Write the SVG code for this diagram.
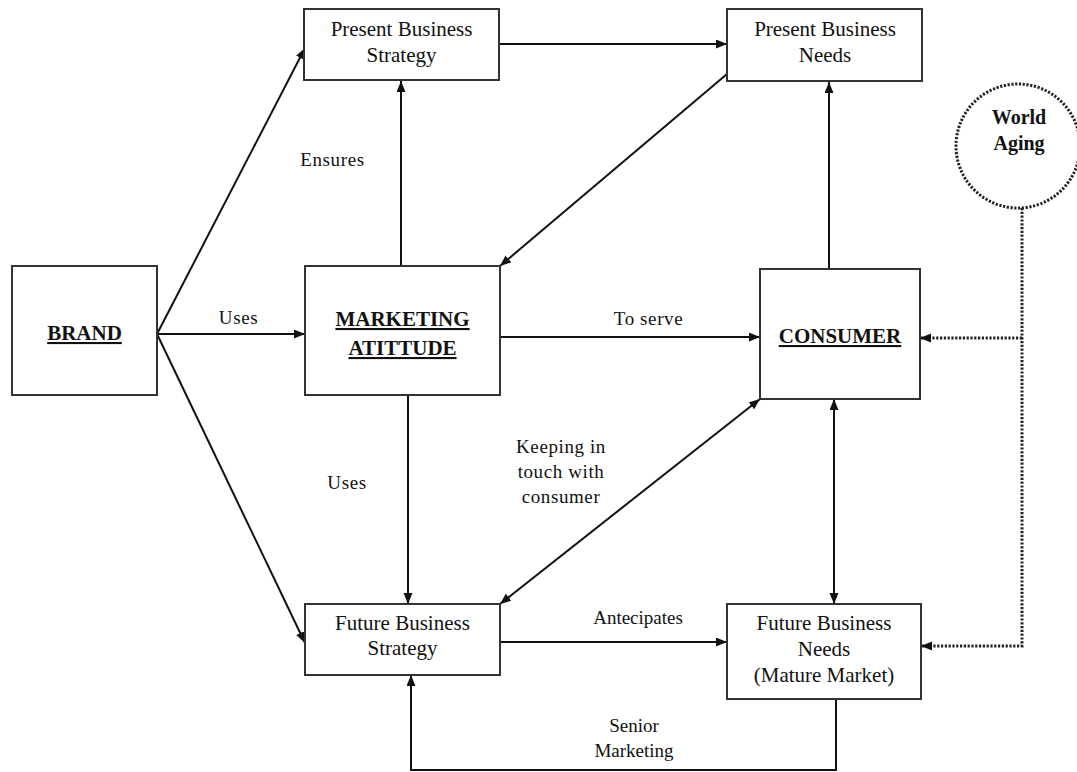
<svg xmlns="http://www.w3.org/2000/svg" width="1077" height="772" viewBox="0 0 1077 772">
<style>
.box{fill:#fff;stroke:#333;stroke-width:2}
.t{font-family:"Liberation Serif","Times New Roman",serif;font-size:21px;fill:#111;text-anchor:middle}
.b{font-weight:bold;text-decoration:underline}
.lbl{font-family:"Liberation Serif","Times New Roman",serif;font-size:19px;fill:#111;text-anchor:middle;letter-spacing:0.6px}
.c{fill:none;stroke:#111;stroke-width:2}
.d{fill:none;stroke:#222;stroke-width:3;stroke-dasharray:2.2 1.6}
</style>
<defs>
<marker id="ah" markerUnits="userSpaceOnUse" markerWidth="12" markerHeight="10" refX="11" refY="4.5" orient="auto-start-reverse">
<path d="M0,0 L11,4.5 L0,9 z" fill="#111"/>
</marker>
</defs>
<g id="connectors">
<line class="c" x1="157" y1="334" x2="305" y2="48" marker-end="url(#ah)"/>
<line class="c" x1="157" y1="334" x2="305" y2="334" marker-end="url(#ah)"/>
<line class="c" x1="157" y1="334" x2="305" y2="643" marker-end="url(#ah)"/>
<line class="c" x1="401" y1="266" x2="401" y2="81" marker-end="url(#ah)"/>
<line class="c" x1="499" y1="44" x2="727" y2="44" marker-end="url(#ah)"/>
<line class="c" x1="727" y1="74" x2="500" y2="266" marker-end="url(#ah)"/>
<line class="c" x1="829" y1="269" x2="829" y2="82" marker-end="url(#ah)"/>
<line class="c" x1="500" y1="337" x2="760" y2="337" marker-end="url(#ah)"/>
<line class="c" x1="408" y1="395" x2="408" y2="604" marker-end="url(#ah)"/>
<line class="c" x1="500" y1="604" x2="760" y2="399" marker-start="url(#ah)" marker-end="url(#ah)"/>
<line class="c" x1="834" y1="399" x2="834" y2="604" marker-start="url(#ah)" marker-end="url(#ah)"/>
<line class="c" x1="500" y1="642" x2="727" y2="642" marker-end="url(#ah)"/>
<polyline class="c" points="836,699 836,770 411,770 411,675" marker-end="url(#ah)"/>
<polyline class="d" points="1022,208 1022,646 921,646" marker-end="url(#ah)"/>
<line class="d" x1="1022" y1="338" x2="920" y2="338" marker-end="url(#ah)"/>
<text class="lbl" x="238.5" y="324">Uses</text>
<text class="lbl" x="332.5" y="166">Ensures</text>
<text class="lbl" x="648.5" y="325">To serve</text>
<text class="lbl" x="347" y="489">Uses</text>
<text class="lbl" x="561" y="453">Keeping in</text>
<text class="lbl" x="561" y="478">touch with</text>
<text class="lbl" x="561" y="503">consumer</text>
<text class="lbl" x="638" y="624" style="letter-spacing:0">Antecipates</text>
<text class="lbl" x="634" y="732" style="letter-spacing:0">Senior</text>
<text class="lbl" x="634" y="757" style="letter-spacing:0">Marketing</text>
</g>
<g id="brand">
<rect class="box" x="12" y="266" width="145" height="129"/>
<text class="t b" x="84.5" y="340">BRAND</text>
</g>
<g id="present-business-strategy">
<rect class="box" x="304" y="9" width="195" height="71"/>
<text class="t" x="401.5" y="36">Present Business</text>
<text class="t" x="401.5" y="62">Strategy</text>
</g>
<g id="present-business-needs">
<rect class="box" x="727" y="9" width="195" height="72"/>
<text class="t" x="825" y="36">Present Business</text>
<text class="t" x="825" y="62">Needs</text>
</g>
<g id="marketing-attitude">
<rect class="box" x="305" y="266" width="195" height="129"/>
<text class="t b" x="402.5" y="326">MARKETING</text>
<text class="t b" x="402.5" y="355">ATITTUDE</text>
</g>
<g id="consumer">
<rect class="box" x="760" y="269" width="160" height="130"/>
<text class="t b" x="840" y="343">CONSUMER</text>
</g>
<g id="future-business-strategy">
<rect class="box" x="305" y="604" width="195" height="71"/>
<text class="t" x="402.5" y="630">Future Business</text>
<text class="t" x="402.5" y="655">Strategy</text>
</g>
<g id="future-business-needs">
<rect class="box" x="727" y="604" width="194" height="95"/>
<text class="t" x="824" y="630">Future Business</text>
<text class="t" x="824" y="656">Needs</text>
<text class="t" x="824" y="682">(Mature Market)</text>
</g>
<g id="world-aging">
<circle class="d" cx="1018" cy="146" r="62" fill="#fff"/>
<text class="t" x="1019" y="124" style="font-weight:bold;font-size:20px">World</text>
<text class="t" x="1019" y="150" style="font-weight:bold;font-size:20px">Aging</text>
</g>
</svg>
